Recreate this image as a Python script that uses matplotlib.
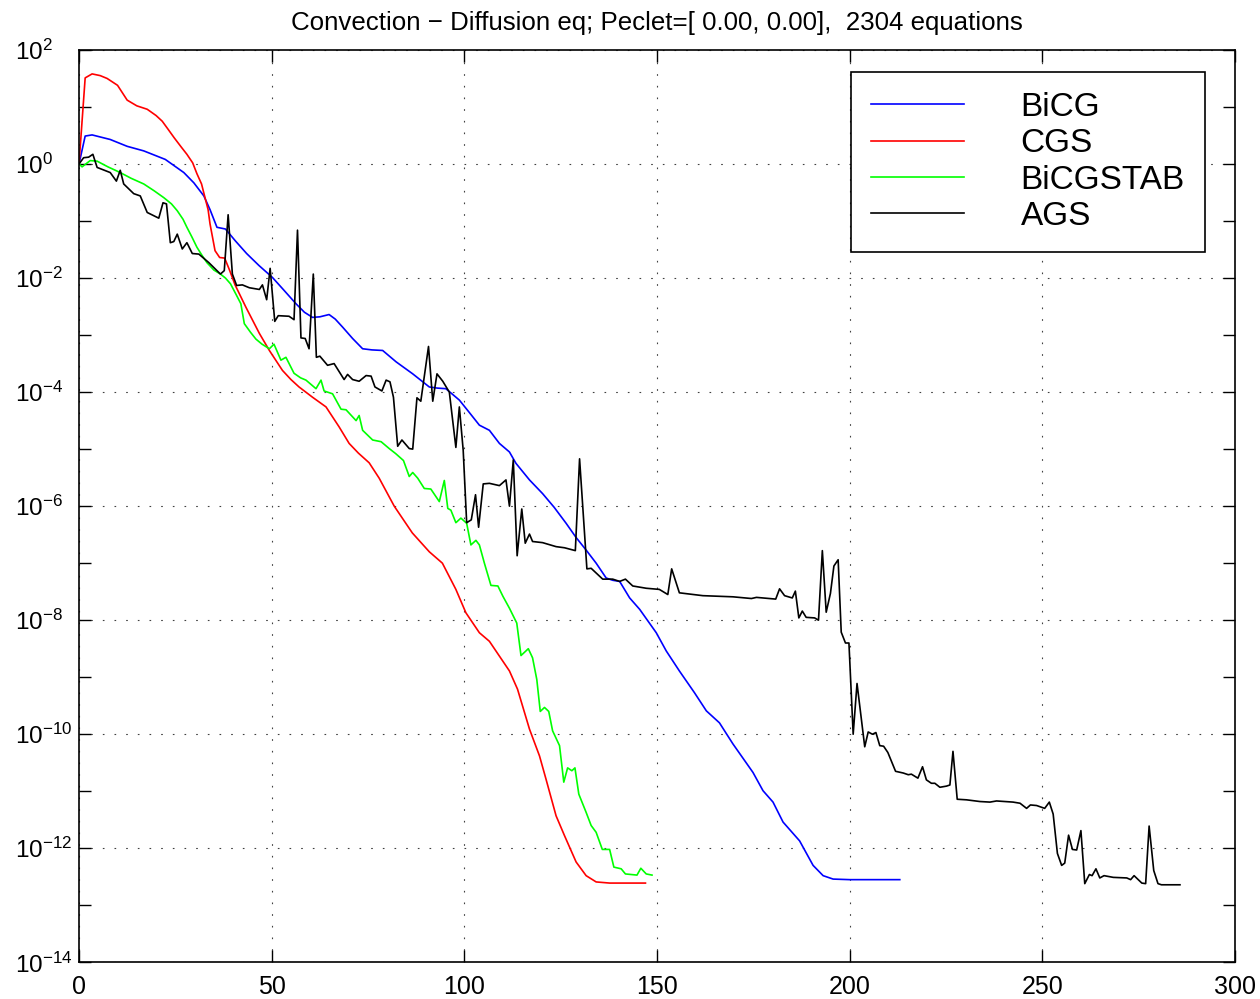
import numpy as np
import matplotlib
matplotlib.use('Agg')
import matplotlib.pyplot as plt
from matplotlib.ticker import FixedLocator, NullFormatter

# iteration numbers and log10 of the residual
bicg_it = [0, 1.6, 3.4, 8.1, 12.5, 16.8, 22.4, 27.2, 29.8, 32.4, 34, 35.8, 38, 40.6, 43.5, 46.7,
           50.2, 53, 56.3, 58.5, 60.6, 62.5, 64.9, 66.5, 68.4, 71, 73.6, 76, 78.8, 82.3, 86.6,
           90.9, 93, 95.2, 98.7, 101.2, 103.9, 106.5, 109.1, 111.7, 113.4, 116.9, 120.3, 123.3,
           126.4, 129, 131.6, 134.2, 136.8, 138.5, 140.3, 142.9, 145.5, 149.8, 152.4, 155.8,
           159.7, 162.8, 166.2, 169.7, 174.9, 177.5, 180.1, 182.7, 187, 190.5, 193.1, 195.7,
           200, 213]
bicg_log = [0, 0.49, 0.51, 0.43, 0.31, 0.23, 0.08, -0.15, -0.33, -0.56, -0.8, -1.11, -1.14,
            -1.35, -1.57, -1.78, -1.99, -2.2, -2.45, -2.6, -2.69, -2.68, -2.64, -2.72, -2.86,
            -3.06, -3.24, -3.26, -3.27, -3.47, -3.68, -3.91, -3.93, -3.94, -4.14, -4.35, -4.58,
            -4.67, -4.9, -5.05, -5.25, -5.54, -5.78, -6.02, -6.3, -6.55, -6.77, -7.0, -7.26,
            -7.3, -7.32, -7.61, -7.81, -8.22, -8.54, -8.89, -9.27, -9.59, -9.8, -10.17, -10.67,
            -10.99, -11.19, -11.54, -11.87, -12.3, -12.48, -12.54, -12.55, -12.55]

cgs_it = [0, 1.6, 3.4, 5.5, 7.3, 10, 12.5, 15, 17.7, 20, 21.6, 23, 24.7, 26.5, 28, 29.5, 30.6,
          31.8, 32.7, 33.5, 34, 35.3, 36.5, 37.8, 39, 40.5, 43.3, 46.8, 49.4, 52.8, 55, 57.1,
          60.6, 64.1, 67.5, 70.1, 72.5, 75.3, 77.9, 81.8, 86.5, 90.9, 94.3, 97.8, 100.4, 103.9,
          106.5, 109.1, 111.7, 113.8, 116.9, 119.5, 121.2, 123.8, 126, 129, 131.6, 134.2,
          137.7, 147]
cgs_log = [0, 1.51, 1.58, 1.55, 1.50, 1.38, 1.12, 1.02, 0.96, 0.85, 0.75, 0.62, 0.46, 0.30,
           0.17, 0.02, -0.17, -0.35, -0.59, -0.8, -1.05, -1.52, -1.64, -1.65, -1.85, -2.12,
           -2.51, -2.97, -3.27, -3.62, -3.78, -3.91, -4.09, -4.26, -4.61, -4.9, -5.07, -5.24,
           -5.51, -6.0, -6.47, -6.8, -7.0, -7.46, -7.87, -8.22, -8.37, -8.63, -8.89, -9.21,
           -9.91, -10.38, -10.79, -11.43, -11.78, -12.24, -12.48, -12.59, -12.61, -12.61]

stab_it = [0, 0.8, 2.9, 4.7, 7.5, 10.7, 13.5, 16.8, 19.5, 22, 24, 25.5, 27, 28, 29.3, 30.6,
           31.9, 33.2, 35, 36.7, 38, 39.3, 40.7, 42, 42.9, 44.5, 45.9, 47.5, 49.4, 50.6, 52.4,
           53.7, 55.8, 57.5, 58.9, 61.5, 62.8, 63.6, 65.8, 68, 69.3, 71.9, 72.7, 73.6, 76.2,
           78.4, 80.5, 82.2, 84.2, 85.7, 86.6, 87.9, 89.6, 91.3, 93.5, 94.8, 95.7, 96.5, 97.8,
           99.1, 100.6, 101.7, 103, 103.9, 105.2, 106.9, 108.7, 110, 111.7, 113.6, 114.7,
           116.6, 117.7, 118.8, 119.7, 120.8, 121.9, 122.9, 124.7, 125.8, 126.8, 127.9, 128.7,
           129.7, 131.6, 132.9, 134.2, 135.8, 137.7, 138.8, 140.7, 141.8, 144.8, 145.8, 147.2,
           148.7]
stab_log = [0, -0.05, 0.06, 0.05, -0.05, -0.15, -0.25, -0.35, -0.47, -0.59, -0.7, -0.82,
            -0.97, -1.11, -1.28, -1.46, -1.6, -1.73, -1.86, -1.93, -2.0, -2.1, -2.28, -2.45,
            -2.8, -2.95, -3.07, -3.16, -3.24, -3.16, -3.44, -3.39, -3.67, -3.75, -3.79, -3.94,
            -3.79, -3.98, -4.03, -4.3, -4.31, -4.5, -4.41, -4.67, -4.84, -4.87, -4.99, -5.08,
            -5.2, -5.48, -5.41, -5.51, -5.69, -5.7, -5.92, -5.55, -6.04, -6.07, -6.29, -6.21,
            -6.3, -6.68, -6.6, -6.68, -7.0, -7.39, -7.4, -7.58, -7.79, -8.05, -8.62, -8.5,
            -8.66, -9.04, -9.6, -9.53, -9.6, -9.94, -10.2, -10.84, -10.59, -10.64, -10.59,
            -11.05, -11.37, -11.6, -11.72, -12.02, -12.02, -12.33, -12.36, -12.45, -12.47,
            -12.35, -12.45, -12.47]

ags_it = [0, 1.2, 2.5, 3.6, 4.7, 7.3, 8.1, 9.7, 10.7, 11.6, 14.2, 15.9, 17.7, 20.7, 21.8,
          22.7, 23.7, 24.6, 25.5, 26.8, 28, 29.4, 31.1, 33.7, 36.7, 37.7, 38.7, 39.8, 40.9,
          42.4, 44.2, 46.8, 47.6, 48.7, 49.6, 50.8, 51.7, 54.5, 55.8, 56.7, 57.6, 58.7, 59.7,
          60.8, 61.6, 62.5, 64.5, 66.2, 68.8, 69.7, 71, 72.7, 74.5, 75.8, 76.8, 78.6, 79.7,
          80.7, 81.6, 82.7, 83.8, 85.7, 86.6, 87.7, 88.7, 90.7, 91.8, 92.9, 94.4, 96.1, 97.8,
          98.7, 99.7, 100.6, 101.8, 102.9, 103.7, 104.9, 106.5, 109.1, 110.8, 111.7, 112.7,
          113.7, 114.9, 115.8, 116.9, 117.7, 120.3, 123.8, 126, 128.8, 129.9, 131.8, 132.9,
          135.9, 138.5, 140.3, 141.8, 143.7, 147.2, 150.6, 152.8, 153.8, 155.8, 161.9, 169.7,
          174.5, 175.8, 180.8, 181.8, 183.1, 185.1, 185.9, 186.8, 187.7, 188.7, 190.9, 191.9,
          192.9, 193.9, 195, 195.9, 197, 197.8, 198.9, 199.8, 200.9, 201.9, 203.9, 204.8,
          205.9, 206.8, 207.8, 208.8, 209.9, 211.9, 213.9, 215.2, 216, 217.7, 218.9, 219.9,
          221.2, 222.1, 223.4, 225.1, 226, 226.8, 227.9, 230.3, 233.8, 236.4, 238.1, 242.4,
          244.2, 245.9, 246.9, 248.5, 250.6, 251.8, 252.8, 253.9, 255, 255.8, 256.8, 257.8,
          258.9, 260, 261, 262.2, 262.9, 263.9, 264.9, 266, 268.4, 271.9, 272.9, 273.8,
          275.8, 276.8, 277.7, 278.9, 280, 280.9, 285.7]
ags_log = [0, 0.11, 0.12, 0.17, -0.06, -0.13, -0.15, -0.3, -0.11, -0.35, -0.52, -0.56, -0.85,
           -0.95, -0.68, -0.7, -1.38, -1.36, -1.23, -1.49, -1.38, -1.57, -1.58, -1.73, -1.93,
           -1.87, -0.89, -1.93, -2.13, -2.12, -2.17, -2.2, -2.12, -2.38, -1.83, -2.76, -2.66,
           -2.67, -2.73, -1.16, -3.05, -3.06, -3.24, -1.93, -3.39, -3.37, -3.53, -3.5, -3.78,
           -3.69, -3.78, -3.81, -3.71, -3.72, -3.91, -3.98, -3.79, -3.82, -4.09, -4.95, -4.84,
           -4.99, -5.0, -4.1, -4.16, -3.2, -4.16, -3.68, -3.81, -4.0, -4.97, -4.26, -5.02,
           -6.29, -6.24, -5.8, -6.37, -5.61, -5.6, -5.64, -5.54, -6.0, -5.19, -6.87, -6.05,
           -6.65, -6.49, -6.62, -6.64, -6.71, -6.73, -6.78, -5.17, -7.1, -7.09, -7.28, -7.28,
           -7.32, -7.28, -7.4, -7.44, -7.46, -7.55, -7.1, -7.52, -7.57, -7.59, -7.62, -7.6,
           -7.63, -7.45, -7.57, -7.61, -7.49, -7.96, -7.84, -7.95, -7.96, -8.0, -6.78, -7.86,
           -7.53, -7.05, -6.94, -8.21, -8.4, -8.4, -10.0, -9.11, -10.22, -9.96, -10.0, -9.97,
           -10.2, -10.21, -10.32, -10.65, -10.68, -10.71, -10.7, -10.77, -10.57, -10.8,
           -10.86, -10.86, -10.93, -10.91, -10.89, -10.3, -11.14, -11.15, -11.18, -11.19,
           -11.17, -11.19, -11.21, -11.3, -11.24, -11.25, -11.3, -11.19, -11.4, -12.09, -12.3,
           -12.26, -11.77, -12.02, -12.03, -11.69, -12.62, -12.46, -12.48, -12.36, -12.52,
           -12.48, -12.51, -12.52, -12.55, -12.48, -12.61, -12.62, -11.61, -12.39, -12.62,
           -12.64, -12.64]

labels = ['BiCG', 'CGS', 'BiCGSTAB', 'AGS']
colors = ['#0000ff', '#ff0000', '#00ff00', '#000000']

plt.rcParams['font.family'] = ['Liberation Sans', 'DejaVu Sans']

fig = plt.figure(figsize=(12.6, 9.99), dpi=100)
ax = fig.add_axes([0.0627, 0.0367, 0.9175, 0.9133])

series = [(bicg_it, bicg_log), (cgs_it, cgs_log), (stab_it, stab_log), (ags_it, ags_log)]
for (it, lg), lab, col in zip(series, labels, colors):
    ax.semilogy(it, 10.0 ** np.array(lg), color=col, lw=1.2, label=lab)

ax.set_xlim(0, 300)
ax.set_ylim(1e-14, 1e2)
ax.set_xticks(range(0, 301, 50))
major = [10.0 ** e for e in range(2, -15, -2)]
ax.yaxis.set_major_locator(FixedLocator(major))
ax.set_yticklabels([r'$\mathregular{10^{%d}}$' % e for e in range(2, -15, -2)])
ax.yaxis.set_minor_locator(FixedLocator([10.0 ** e for e in range(1, -14, -2)]))
ax.yaxis.set_minor_formatter(NullFormatter())

ax.tick_params(which='both', direction='in', top=True, right=True, length=8.5, width=1)
ax.tick_params(axis='x', labelsize=18, pad=9)
ax.tick_params(axis='y', labelsize=17.5, pad=46)
for t in ax.get_yticklabels():
    t.set_horizontalalignment('left')

ax.grid(True, which='major', color='0.25', linestyle=(0, (1.5, 9)), linewidth=0.8)
for s in ax.spines.values():
    s.set_linewidth(1.2)

ax.set_title('Convection \u2212 Diffusion eq; Peclet=[ 0.00, 0.00],  2304 equations',
             fontsize=18.6, pad=14.5)

leg = ax.legend(loc='upper right', bbox_to_anchor=(0.974, 0.976), borderaxespad=0,
                fontsize=24, fancybox=False, framealpha=1, edgecolor='black',
                handlelength=2.8, handletextpad=1.7, labelspacing=0.16, borderpad=0.6)
leg.get_frame().set_linewidth(1.2)

fig.savefig('out.png', dpi=100)
